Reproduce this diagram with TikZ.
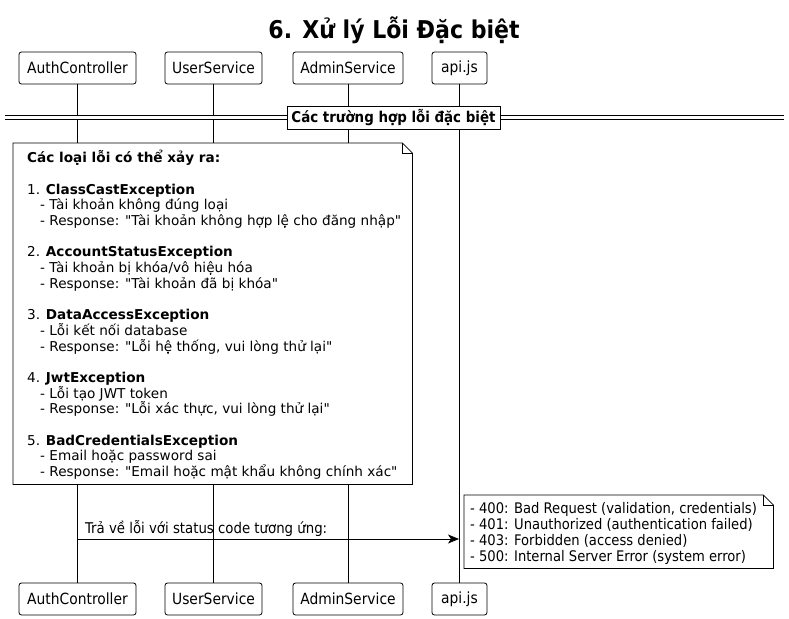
\documentclass[tikz,border=0pt]{standalone}
\usepackage{fontspec}
\setmainfont{DejaVu Sans}[Ligatures=TeXOff]
\newfontfamily\condfont{DejaVu Sans Condensed}
\usetikzlibrary{arrows.meta,calc}

\tikzset{
  actor/.style={draw, rounded corners=2.5pt, fill=white, minimum height=32pt, inner sep=0pt, line width=0.8pt, font=\condfont\fontsize{15.4}{17}\selectfont},
  life/.style={line width=0.8pt},
  notebox/.style={inner sep=0pt},
  notetext/.style={inner sep=0pt, anchor=north west, align=left},
}

\begin{document}
\begin{tikzpicture}[x=1pt, y=-1pt]
\useasboundingbox (0,0) rectangle (789,618);

\node[font=\condfont\bfseries\fontsize{24.5}{26}\selectfont] (title) at (394,30) {6. Xử lý Lỗi Đặc biệt};

% participants
\node[actor, minimum width=117pt] (ac) at (77.5,68) {AuthController};
\node[actor, minimum width=97pt] (us) at (213.5,68) {UserService};
\node[actor, minimum width=110pt] (as) at (348,68) {AdminService};
\node[actor, minimum width=55pt] (api) at (459.5,68) {api.js};

\node[actor, minimum width=117pt] (ac2) at (77.5,599) {AuthController};
\node[actor, minimum width=97pt] (us2) at (213.5,599) {UserService};
\node[actor, minimum width=110pt] (as2) at (348,599) {AdminService};
\node[actor, minimum width=55pt] (api2) at (459.5,599) {api.js};

\draw[life] (ac) -- (ac2);
\draw[life] (us) -- (us2);
\draw[life] (as) -- (as2);
\draw[life] (api) -- (api2);

% divider
\coordinate (dl) at (5,117.5);
\coordinate (dr) at (784,117.5);
\draw[double, double distance=3pt, line width=0.8pt] (dl) -- (dr);
\node[draw, fill=white, line width=0.8pt, minimum width=213pt, minimum height=23pt, inner sep=0pt, font=\condfont\bfseries\fontsize{14.9}{16}\selectfont] (div) at (393.5,117.5) {Các trường hợp lỗi đặc biệt};

% first note
\node[notebox, minimum width=399pt, minimum height=341pt, anchor=north west] (n1) at (13,143) {};
\draw[fill=white, line width=0.8pt] (n1.north west) -- ($(n1.north east)+(-10,0)$) -- ($(n1.north east)+(0,10)$) -- (n1.south east) -- (n1.south west) -- cycle;
\draw[line width=0.8pt] ($(n1.north east)+(-10,0)$) -- ($(n1.north east)+(-10,10)$) -- ($(n1.north east)+(0,10)$);
\node[notetext, font=\fontsize{13.6}{15.7}\selectfont] (n1t) at (27,150) {%
\textbf{Các loại lỗi có thể xảy ra:}\\[15.7pt]
1. \textbf{ClassCastException}\\
\hspace*{13pt}- Tài khoản không đúng loại\\
\hspace*{13pt}- Response: "Tài khoản không hợp lệ cho đăng nhập"\\[15.7pt]
2. \textbf{AccountStatusException}\\
\hspace*{13pt}- Tài khoản bị khóa/vô hiệu hóa\\
\hspace*{13pt}- Response: "Tài khoản đã bị khóa"\\[15.7pt]
3. \textbf{DataAccessException}\\
\hspace*{13pt}- Lỗi kết nối database\\
\hspace*{13pt}- Response: "Lỗi hệ thống, vui lòng thử lại"\\[15.7pt]
4. \textbf{JwtException}\\
\hspace*{13pt}- Lỗi tạo JWT token\\
\hspace*{13pt}- Response: "Lỗi xác thực, vui lòng thử lại"\\[15.7pt]
5. \textbf{BadCredentialsException}\\
\hspace*{13pt}- Email hoặc password sai\\
\hspace*{13pt}- Response: "Email hoặc mật khẩu không chính xác"};

% message
\coordinate (m1) at (77,539);
\coordinate (m2) at (459,539);
\draw[line width=0.8pt, -{Stealth[length=11pt, width=9pt, inset=3pt]}] (m1) -- (m2);
\node[anchor=base west, inner sep=0pt, font=\condfont\fontsize{14.8}{16}\selectfont] (msg) at (85,533) {Trả về lỗi với status code tương ứng:};

% second note
\node[notebox, minimum width=309pt, minimum height=73pt, anchor=north west] (n2) at (464,495) {};
\draw[fill=white, line width=0.8pt] (n2.north west) -- ($(n2.north east)+(-10,0)$) -- ($(n2.north east)+(0,10)$) -- (n2.south east) -- (n2.south west) -- cycle;
\draw[line width=0.8pt] ($(n2.north east)+(-10,0)$) -- ($(n2.north east)+(-10,10)$) -- ($(n2.north east)+(0,10)$);
\node[notetext, font=\condfont\fontsize{14.6}{16}\selectfont] (n2t) at (470,502) {%
- 400: Bad Request (validation, credentials)\\
- 401: Unauthorized (authentication failed)\\
- 403: Forbidden (access denied)\\
- 500: Internal Server Error (system error)};
\end{tikzpicture}
\end{document}
